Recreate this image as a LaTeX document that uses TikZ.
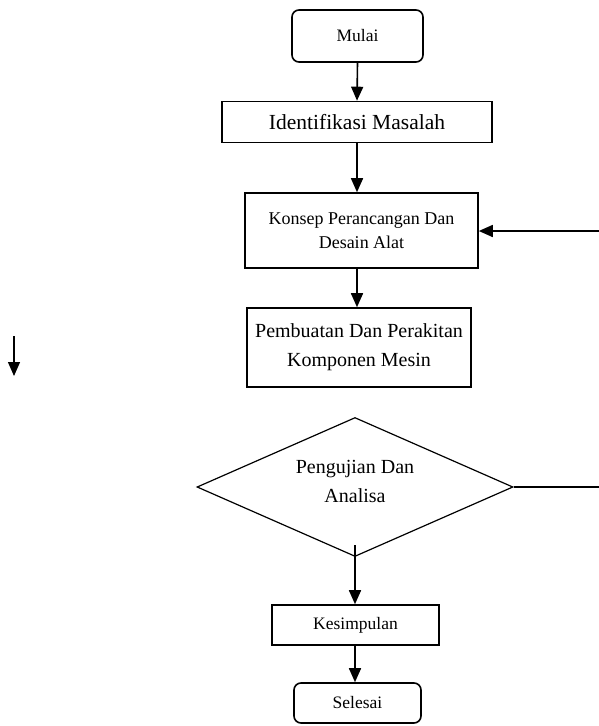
\documentclass[tikz,border=0pt]{standalone}
\usepackage{fontspec}
\setmainfont{Liberation Serif}
\usetikzlibrary{shapes.geometric,arrows.meta}
\tikzset{
  proses/.style={draw, line width=1.6pt, align=center, inner sep=0pt},
  terminal/.style={proses, rounded corners=7pt},
  keputusan/.style={draw, diamond, line width=1.2pt, inner sep=0pt},
  panah/.style={-{Triangle[length=14pt,width=12pt]}, line width=1.6pt},
}
\begin{document}
\begin{tikzpicture}[x=1pt, y=-1pt]
        \useasboundingbox (0,0) rectangle (599,726);

        \node [terminal, minimum width=131pt, minimum height=52pt, font=\fontsize{17.5}{20}\selectfont] (mulai) at (357.5,36) {Mulai};
        \node [proses, minimum width=270pt, minimum height=41pt, font=\fontsize{21.5}{24}\selectfont] (identifikasi) at (357,122) {Identifikasi Masalah};
        \node [proses, minimum width=233pt, minimum height=75pt, font=\fontsize{18}{24}\selectfont] (konsep) at (361.5,230.5) {Konsep Perancangan Dan\\Desain Alat};
        \node [proses, minimum width=224pt, minimum height=79pt, font=\fontsize{20}{29}\selectfont] (pembuatan) at (359,347.5) {Pembuatan Dan Perakitan\\Komponen Mesin};
        \node [keputusan, minimum width=316pt, minimum height=139pt,
               label={[font=\fontsize{20}{29}\selectfont, align=center, yshift=6pt]center:Pengujian Dan\\Analisa}] (uji) at (355,487) {};
        \node [proses, minimum width=167pt, minimum height=40pt, font=\fontsize{17.5}{20}\selectfont] (kesimpulan) at (355.5,625) {Kesimpulan};
        \node [terminal, minimum width=127pt, minimum height=40pt, font=\fontsize{17.5}{20}\selectfont] (selesai) at (357.5,703) {Selesai};

        \coordinate (balik1) at (599,231);
        \coordinate (balik2) at (599,487);
        \coordinate (lepas1) at (14,336);
        \coordinate (lepas2) at (14,376);

        \draw [panah] (mulai.south) -- (identifikasi.north);
        \draw [panah] (identifikasi.south) -- (identifikasi.south |- konsep.north);
        \draw [panah] (balik1) -- (konsep.east |- balik1);
        \draw [panah] (identifikasi.south |- konsep.south) -- (identifikasi.south |- pembuatan.north);
        \draw [line width=1.2pt] (uji.east) -- (balik2);
        \draw [panah] ([yshift=12pt]uji.south) -- (uji.south |- kesimpulan.north);
        \draw [panah] (uji.south |- kesimpulan.south) -- (uji.south |- selesai.north);
        \draw [-{Triangle[length=14pt,width=12pt]}, line width=1.3pt] (lepas1) -- (lepas2);
\end{tikzpicture}
\end{document}
